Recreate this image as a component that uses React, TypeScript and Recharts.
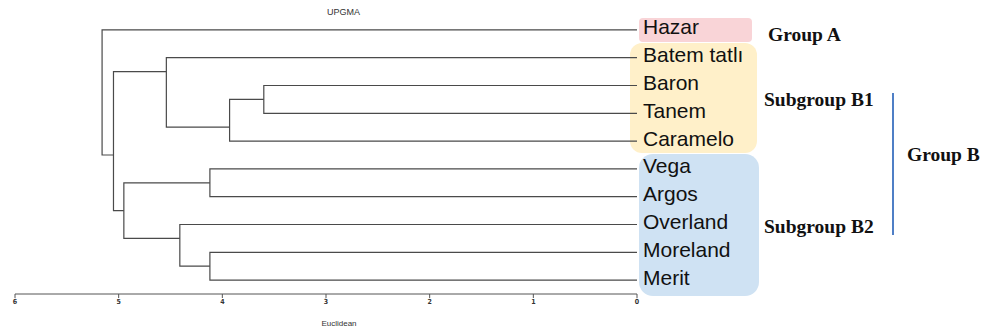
import React from 'react';
import { LineChart, Line, XAxis, YAxis, Label } from 'recharts';

// leaves top to bottom
const leafNames = ['Hazar', 'Batem tatlı', 'Baron', 'Tanem', 'Caramelo', 'Vega', 'Argos', 'Overland', 'Moreland', 'Merit'];

// internal nodes (UPGMA merges)
const nodeIds = ['BT', 'BTC', 'B1', 'VA', 'MM', 'OMM', 'B2', 'B', 'root'];
const nodeHeights = [3.6, 3.93, 4.54, 4.12, 4.12, 4.41, 4.95, 5.05, 5.16];
const nodeRows = [2.5, 3.5, 1.5, 5.5, 8.5, 7.5, 6.5, 4.5, 2.25];
const nodeChildren = [
  ['Baron', 'Tanem'],
  ['BT', 'Caramelo'],
  ['Batem tatlı', 'BTC'],
  ['Vega', 'Argos'],
  ['Moreland', 'Merit'],
  ['Overland', 'MM'],
  ['VA', 'OMM'],
  ['B1', 'B2'],
  ['Hazar', 'B'],
];

const xTicks = [0, 1, 2, 3, 4, 5, 6];

const pos = (id: string) => {
  const leaf = leafNames.indexOf(id);
  if (leaf >= 0) return { x: 0, y: leaf };
  const n = nodeIds.indexOf(id);
  return { x: nodeHeights[n], y: nodeRows[n] };
};

const branches = nodeIds.map((id, i) => {
  const a = pos(nodeChildren[i][0]);
  const b = pos(nodeChildren[i][1]);
  const h = nodeHeights[i];
  return {
    id,
    points: [
      { x: a.x, y: a.y },
      { x: h, y: a.y },
      { x: h, y: b.y },
      { x: b.x, y: b.y },
    ],
  };
});

const boxes = [
  { left: 639, top: 18, width: 113, height: 24, bg: '#f9d4d7', r: 4 },
  { left: 630, top: 43, width: 127, height: 110, bg: '#fff0c9', r: 12 },
  { left: 639, top: 154, width: 120, height: 142, bg: '#cfe2f3', r: 14 },
];

const groupText: React.CSSProperties = {
  position: 'absolute',
  fontFamily: '"Liberation Serif", "Times New Roman", serif',
  fontWeight: 'bold',
  fontSize: 19.5,
  color: '#111',
  whiteSpace: 'nowrap',
  lineHeight: 1,
};

export default function App() {
  return (
    <div style={{ position: 'absolute', left: 0, top: 0, width: 981, height: 328, background: '#fff', overflow: 'hidden' }}>
      {boxes.map((b, i) => (
        <div
          key={i}
          style={{ position: 'absolute', left: b.left, top: b.top, width: b.width, height: b.height, background: b.bg, borderRadius: b.r }}
        />
      ))}
      <div style={{ position: 'absolute', left: 0, top: 0 }}>
        <LineChart width={981} height={328} margin={{ top: 16, right: 214, left: 15, bottom: 4 }}>
          <XAxis
            type="number"
            dataKey="x"
            domain={[0, 6]}
            reversed
            ticks={xTicks}
            allowDataOverflow
            height={30}
            stroke="#555"
            tickSize={4}
            tickMargin={1}
            tick={{ fill: '#333', fontSize: 7, fontFamily: '"Liberation Sans Narrow", "DejaVu Sans Condensed", sans-serif', fontWeight: 'bold' }}
          >
            <Label
              value="Euclidean"
              position="bottom"
              offset={-4}
              dx={13}
              style={{ fill: '#333', fontSize: 8, fontFamily: '"Liberation Sans", Arial, sans-serif' }}
            />
          </XAxis>
          <YAxis
            yAxisId={0}
            type="number"
            dataKey="y"
            orientation="right"
            domain={[-0.5, 9.5]}
            reversed
            ticks={leafNames.map((_, i) => i)}
            interval={0}
            tickFormatter={(v: number) => leafNames[v] ?? ''}
            axisLine={false}
            tickLine={false}
            tickSize={0}
            tickMargin={6}
            width={130}
            tick={{ fill: '#111', fontSize: 21, dy: -3, fontFamily: '"Liberation Sans", Arial, sans-serif', textAnchor: 'start' }}
          />
          {branches.map((br) => (
            <Line
              key={br.id}
              data={br.points}
              dataKey="y"
              type="linear"
              stroke="#4a4a4a"
              strokeWidth={1.2}
              dot={false}
              activeDot={false}
              isAnimationActive={false}
            />
          ))}
        </LineChart>
      </div>
      <div
        style={{
          position: 'absolute',
          left: 327,
          top: 8,
          fontFamily: '"Liberation Sans", Arial, sans-serif',
          fontSize: 9,
          color: '#333',
          lineHeight: 1,
        }}
      >
        UPGMA
      </div>
      <div style={{ ...groupText, left: 768, top: 24.7 }}>Group A</div>
      <div style={{ ...groupText, left: 764, top: 89.7 }}>Subgroup B1</div>
      <div style={{ ...groupText, left: 764, top: 216.7 }}>Subgroup B2</div>
      <div style={{ ...groupText, left: 907, top: 144.7 }}>Group B</div>
      <div style={{ position: 'absolute', left: 892, top: 93, width: 2, height: 142, background: '#4f7fc6' }} />
    </div>
  );
}
